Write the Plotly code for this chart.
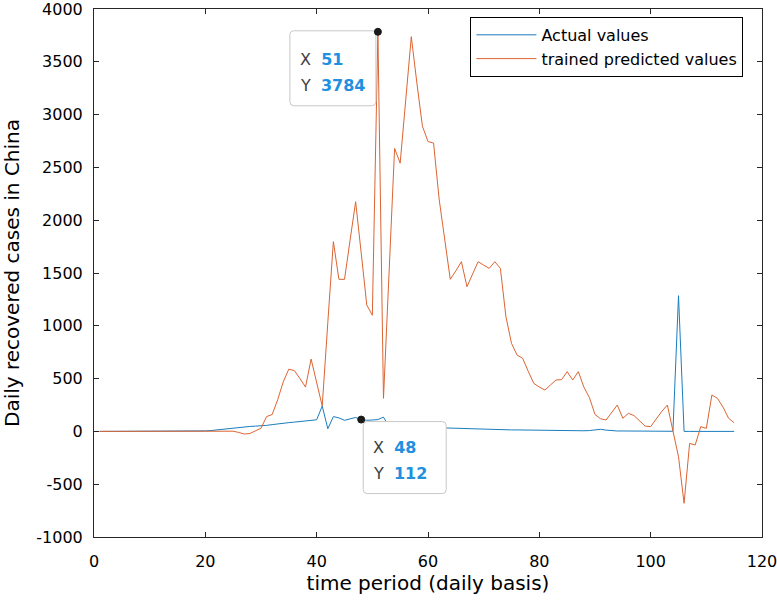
import plotly.graph_objects as go

days = list(range(1, 116))

actual_values = [
    0, 0, 0, 0, 0, 0, 0, 0, 0, 0, 0, 0, 0, 0, 0,
    1, 2, 3, 4, 5,
    8, 14, 22, 28, 33, 38, 43, 47, 50, 52,
    57, 64, 72, 78, 83, 88, 94, 100, 102, 110,
    240, 25, 140, 128, 105, 120, 132, 112, 105, 108,
    112, 135, 45, 42, 42, 41, 40, 38, 37, 38,
    36, 35, 33, 31, 29, 27, 25, 22, 20, 20,
    18, 17, 16, 15, 14, 14, 13, 12, 11, 10,
    10, 9, 8, 8, 7, 7, 6, 6, 8, 14,
    20, 12, 5, 4, 4, 3, 3, 3, 2, 2,
    2, 1, 1, 1, 1285, 0, 0, 0, 0, 0,
    0, 0, 0, 0, 0,
]

predicted_values = [
    0, 0, 0, 0, 0, 0, 0, 0, 0, 0,
    0, 0, 0, 0, 0, 0, 0, 0, 0, 0,
    2, 3, 5, 5, 2, -10, -25, -20, 5, 30,
    140, 160, 300, 470, 590, 575, 500, 420, 685, 470,
    240, 1030, 1797, 1440, 1440, 1810, 2175, 1690, 1197, 1100,
    3784, 313, 1500, 2680, 2540, 3150, 3738, 3300, 2890, 2745,
    2730, 2200, 1800, 1440, 1520, 1607, 1370, 1490, 1607, 1575,
    1544, 1607, 1544, 1086, 834, 723, 692, 570, 455, 420,
    392, 440, 487, 490, 566, 487, 566, 420, 320, 160,
    120, 108, 180, 250, 124, 171, 150, 100, 50, 45,
    120, 190, 250, 13, -240, -681, -113, -129, 45, 29,
    345, 313, 230, 124, 82,
]

tip_x = [51, 48]
tip_y = [3784, 112]

x_ticks = [0, 20, 40, 60, 80, 100, 120]
y_ticks = [-1000, -500, 0, 500, 1000, 1500, 2000, 2500, 3000, 3500, 4000]

x_title = "time period (daily basis)"
y_title = "Daily recovered cases in China"

FONT = "DejaVu Sans"
BLUE = "#1A7DBE"
ORANGE = "#DC6432"
TIPBLUE = "#2290E0"
AXIS = "#262626"

fig = go.Figure()
fig.add_trace(go.Scatter(x=days, y=actual_values, mode="lines", name="Actual values",
                         line=dict(color=BLUE, width=1)))
fig.add_trace(go.Scatter(x=days, y=predicted_values, mode="lines", name="trained predicted values",
                         line=dict(color=ORANGE, width=1)))


def rounded_box(x0, x1, y0, y1, r=4):
    # pixel offsets, y positive upward; y1 top, y0 bottom
    return (f"M{x0 + r},{y1} L{x1 - r},{y1} Q{x1},{y1} {x1},{y1 - r} "
            f"L{x1},{y0 + r} Q{x1},{y0} {x1 - r},{y0} L{x0 + r},{y0} "
            f"Q{x0},{y0} {x0},{y0 + r} L{x0},{y1 - r} Q{x0},{y1} {x0 + r},{y1} Z")


shapes = []
annotations = []
# datatip boxes: box extents in pixels relative to the tip point, text x offset
tip_layout = [
    dict(box=(-88, -2, -74, 1), tx=-80),
    dict(box=(2, 85, -74, -2), tx=10),
]
for (tx, ty, lay) in zip(tip_x, tip_y, tip_layout):
    bx0, bx1, by0, by1 = lay["box"]
    shapes.append(dict(type="path", xref="x", yref="y", xsizemode="pixel", ysizemode="pixel",
                       xanchor=tx, yanchor=ty, path=rounded_box(bx0, bx1, by0, by1),
                       fillcolor="white", line=dict(color="#C8C8C8", width=1), layer="above"))
    shapes.append(dict(type="circle", xref="x", yref="y", xsizemode="pixel", ysizemode="pixel",
                       xanchor=tx, yanchor=ty, x0=-3.5, x1=3.5, y0=-3.5, y1=3.5,
                       fillcolor="#1A1A1A", line=dict(color="#1A1A1A", width=1), layer="above"))
    for label, val, ysh in (("X", tx, -28), ("Y", ty, -54)):
        annotations.append(dict(
            x=tx, y=ty, xref="x", yref="y", showarrow=False,
            xanchor="left", yanchor="middle", xshift=lay["tx"], yshift=ysh,
            text=f"<span style='color:#404040'>{label}</span>&nbsp;&nbsp;"
                 f"<span style='color:{TIPBLUE}'><b>{val}</b></span>",
            font=dict(family=FONT, size=16), align="left"))

# y-axis title placed as a rotated annotation to match the original spacing
annotations.append(dict(text=y_title, xref="paper", yref="paper", x=0, y=0.5,
                        xshift=-82, xanchor="center", yanchor="middle", textangle=-90,
                        showarrow=False, font=dict(family=FONT, size=20, color="#000000")))

fig.update_layout(
    width=777, height=603,
    margin=dict(l=94, r=15, t=9, b=66, autoexpand=False),
    paper_bgcolor="white", plot_bgcolor="white",
    font=dict(family=FONT, size=16, color="#000000"),
    showlegend=True,
    legend=dict(x=0.5635, y=0.985, xanchor="left", yanchor="top",
                bgcolor="white", bordercolor="#000000", borderwidth=1,
                font=dict(family=FONT, size=16, color="#000000"),
                itemwidth=60, tracegroupgap=0),
    shapes=shapes,
    annotations=annotations,
)
fig.update_xaxes(range=[0, 120], tickvals=x_ticks, ticktext=[str(v) for v in x_ticks],
                 automargin=False, ticklabeloverflow="allow", ticklabelstandoff=10,
                 showgrid=False, zeroline=False, showline=True, linecolor=AXIS, linewidth=1,
                 mirror="ticks", ticks="inside", ticklen=5, tickcolor=AXIS,
                 tickfont=dict(family=FONT, size=16, color="#000000"),
                 title=dict(text=x_title, font=dict(family=FONT, size=20, color="#000000"),
                            standoff=5))
fig.update_yaxes(range=[-1000, 4000], tickvals=y_ticks, ticktext=[str(v) for v in y_ticks],
                 automargin=False, ticklabeloverflow="allow", ticklabelstandoff=7,
                 showgrid=False, zeroline=False, showline=True, linecolor=AXIS, linewidth=1,
                 mirror="ticks", ticks="inside", ticklen=5, tickcolor=AXIS,
                 tickfont=dict(family=FONT, size=16, color="#000000"))

fig.write_html("out.html", config={"displayModeBar": False},
               post_script="document.body.style.margin='0';document.body.style.padding='0';")
